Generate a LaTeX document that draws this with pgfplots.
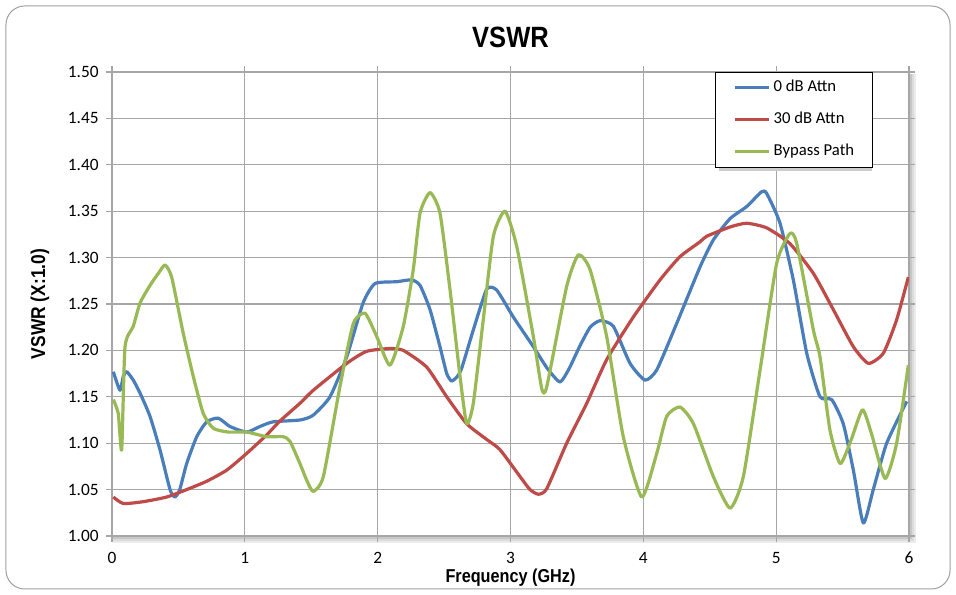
\documentclass[border=0pt]{standalone}
\usepackage{fontspec}
\setmainfont{Carlito}
\newfontfamily\narrowfont[FakeStretch=0.87]{Liberation Sans}
\usepackage{pgfplots}
\pgfplotsset{compat=1.18}
\definecolor{sblue}{HTML}{4A7EBB}
\definecolor{sred}{HTML}{BE4B48}
\definecolor{sgreen}{HTML}{98B954}
\definecolor{gridgray}{HTML}{A6A6A6}
\begin{document}
\begin{tikzpicture}[x=0.75pt,y=0.75pt]
\useasboundingbox (-112,-59) rectangle (844,536);
\draw[gray!75, line width=0.75pt, rounded corners=14] (-106,-53) rectangle (838,530);
% plot area shadow
\fill[black!8] (1,-7) rectangle (804,462);
\fill[black!14] (1,-5) rectangle (802,462);
\fill[black!22] (1,-3) rectangle (800,462);
\begin{axis}[
  at={(0,0)}, anchor=south west,
  width=597.75pt, height=348pt, scale only axis,
  xmin=0, xmax=6, ymin=1, ymax=1.5,
  xtick={0,1,2,3,4,5,6},
  ytick={1,1.05,1.1,1.15,1.2,1.25,1.3,1.35,1.4,1.45,1.5},
  grid=major,
  major grid style={gridgray, line width=0.9pt},
  axis line style={gridgray, line width=0.9pt},
  tick style={gridgray, line width=0.9pt},
  tick align=outside, major tick length=4.5pt,
  axis background/.style={fill=white},
  /pgf/number format/assume math mode=true,
  tick label style={font=\fontsize{13}{15}\selectfont},
  yticklabel style={/pgf/number format/.cd, fixed, fixed zerofill, precision=2, /tikz/.cd, xshift=-2pt},
  xticklabel style={yshift=-4pt},
  title={VSWR},
  title style={font=\narrowfont\bfseries\fontsize{22}{24}\selectfont, at={(axis description cs:0.5,1.058)}, anchor=center},
  xlabel={Frequency (GHz)},
  ylabel={VSWR (X:1.0)},
  xlabel style={font=\narrowfont\bfseries\fontsize{14}{16}\selectfont, at={(axis description cs:0.5,-0.0905)}, anchor=center},
  ylabel style={font=\narrowfont\bfseries\fontsize{15}{17}\selectfont, at={(axis description cs:-0.0903,0.5)}, anchor=center},
  legend style={at={(axis description cs:0.7566,1)}, anchor=north west, draw=black, line width=0.75pt, fill=white,
    font=\fontsize{12.5}{14}\selectfont, inner xsep=13.5pt, inner ysep=5.5pt, row sep=12pt, column sep=2.25pt,
    nodes={inner sep=0pt, text height=9pt, text depth=3pt}, legend cell align=left},
  legend image code/.code={\draw[#1, line width=2.4pt] (0pt,0pt) -- (25.5pt,0pt);},
  every axis plot/.append style={line width=2.4pt, line join=round, smooth, tension=0.35},
]
\fill[black!20] (axis description cs:0.7616,0.7866) rectangle (axis description cs:0.9536,0.991);
\addplot[sblue] coordinates {
(0.010,1.177) (0.060,1.157) (0.085,1.172) (0.111,1.177) (0.160,1.168) (0.211,1.154) (0.286,1.129) (0.361,1.093)
(0.437,1.050) (0.474,1.042) (0.510,1.050) (0.562,1.078) (0.638,1.107) (0.713,1.123) (0.800,1.127)
(0.888,1.118) (1.014,1.112) (1.114,1.118) (1.212,1.123) (1.415,1.125) (1.513,1.130)
(1.641,1.150) (1.767,1.193) (1.890,1.251) (1.980,1.272) (2.143,1.274) (2.256,1.276)
(2.319,1.270) (2.394,1.244) (2.469,1.204) (2.520,1.175) (2.557,1.167) (2.600,1.172) (2.633,1.181) (2.720,1.222)
(2.821,1.266) (2.896,1.265) (3.021,1.236) (3.172,1.204) (3.280,1.180) (3.373,1.166) (3.440,1.180) (3.523,1.205)
(3.600,1.225) (3.674,1.232) (3.774,1.226) (3.900,1.186) (4.013,1.168) (4.101,1.179) (4.251,1.229)
(4.427,1.290) (4.527,1.319) (4.653,1.342) (4.778,1.355) (4.891,1.371) (4.929,1.369)
(5.029,1.337) (5.129,1.276) (5.230,1.197) (5.330,1.150) (5.418,1.147) (5.505,1.121)
(5.581,1.071) (5.656,1.014) (5.731,1.050) (5.832,1.100) (5.983,1.145)
};
\addlegendentry{0 dB Attn}
\addplot[sred] coordinates {
(0.010,1.042) (0.085,1.035) (0.236,1.037) (0.412,1.042) (0.562,1.050) (0.713,1.059)
(0.864,1.071) (1.014,1.089) (1.165,1.109) (1.265,1.124) (1.415,1.143) (1.515,1.157)
(1.767,1.186) (1.917,1.199) (2.093,1.202) (2.193,1.200) (2.369,1.182) (2.520,1.150)
(2.670,1.121) (2.821,1.104) (2.921,1.093) (3.072,1.064) (3.147,1.050) (3.210,1.045)
(3.273,1.051) (3.423,1.100) (3.574,1.143) (3.724,1.190) (3.925,1.236) (4.126,1.276)
(4.276,1.301) (4.427,1.317) (4.477,1.323) (4.653,1.333) (4.778,1.337) (4.929,1.332)
(5.104,1.315) (5.280,1.283) (5.430,1.244) (5.581,1.204) (5.694,1.186) (5.807,1.197)
(5.907,1.233) (5.995,1.279)
};
\addlegendentry{30 dB Attn}
\addplot[sgreen] coordinates {
(0.010,1.147) (0.047,1.132) (0.073,1.093) (0.098,1.204) (0.160,1.226) (0.211,1.251)
(0.286,1.270) (0.349,1.283) (0.399,1.292) (0.449,1.279) (0.537,1.218) (0.612,1.172)
(0.687,1.132) (0.763,1.116) (0.876,1.112) (1.014,1.112) (1.165,1.107) (1.290,1.107)
(1.340,1.102) (1.415,1.078) (1.466,1.060) (1.515,1.048) (1.591,1.064) (1.716,1.161)
(1.817,1.229) (1.905,1.240) (1.993,1.215) (2.093,1.184) (2.193,1.226) (2.268,1.287)
(2.319,1.348) (2.394,1.370) (2.469,1.348) (2.545,1.265) (2.620,1.172) (2.670,1.121)
(2.720,1.143) (2.795,1.233) (2.871,1.323) (2.959,1.350) (3.047,1.312) (3.172,1.215)
(3.235,1.159) (3.273,1.161) (3.423,1.269) (3.511,1.303) (3.599,1.287) (3.724,1.215)
(3.849,1.107) (3.988,1.042) (4.101,1.089) (4.176,1.129) (4.276,1.139) (4.377,1.121)
(4.527,1.064) (4.653,1.030) (4.753,1.064) (4.879,1.179) (5.004,1.294) (5.104,1.326)
(5.155,1.315) (5.280,1.222) (5.330,1.193) (5.405,1.114) (5.482,1.078) (5.563,1.103)
(5.650,1.136) (5.716,1.111) (5.820,1.062) (5.907,1.100) (5.995,1.184)
};
\addlegendentry{Bypass Path}
\end{axis}
\end{tikzpicture}
\end{document}
